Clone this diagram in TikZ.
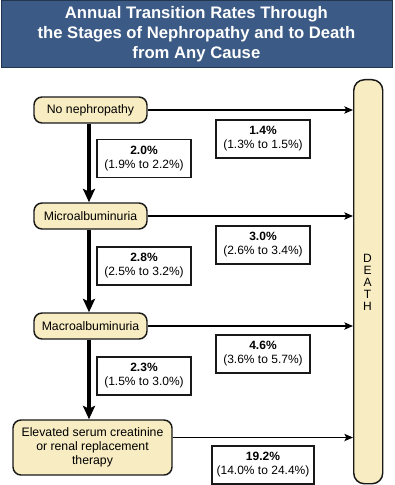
\documentclass[tikz,border=0pt]{standalone}
\usepackage{fontspec}
\setmainfont{Liberation Sans}
\usetikzlibrary{arrows.meta,positioning}
\definecolor{banner}{RGB}{59,90,133}
\definecolor{stagefill}{RGB}{248,236,194}
\begin{document}
\begin{tikzpicture}[x=0.75pt,y=-0.75pt,
  stage/.style={draw=black!90,line width=1.1pt,fill=stagefill,rounded corners=6pt,
    minimum width=84.75pt,minimum height=19.5pt,inner sep=0pt,align=center,
    font=\fontsize{9.2}{10.5}\selectfont},
  rate/.style={draw=black!90,line width=0.8pt,fill=white,minimum width=70.5pt,
    minimum height=28.5pt,inner sep=0pt,align=center,
    font=\fontsize{9}{10.5}\selectfont},
  downarrow/.style={line width=2.3pt,-{Stealth[length=10pt,width=9pt,inset=2pt]}},
  deatharrow/.style={line width=0.85pt,-{Stealth[length=6.5pt,width=5.5pt,inset=1.5pt]}}]
\useasboundingbox (0,0) rectangle (395,485);
% banner
\node[fill=banner,draw=banner!60!black,line width=0.6pt,minimum width=293.25pt,minimum height=50.25pt,
  inner sep=0pt,anchor=north west,text=white,align=center,
  font=\fontsize{12.5}{15}\selectfont\bfseries] (title) at (0.5,0.5)
  {Annual Transition Rates Through\\the Stages of Nephropathy and to Death\\from Any Cause};
% death box
\node[draw=black!90,line width=1.1pt,fill=stagefill,rounded corners=8pt,anchor=north west,
  minimum width=21.75pt,minimum height=303pt,inner sep=0pt] (death) at (353,79) {};
\node[align=center,font=\fontsize{9}{9}\selectfont] (dtext) at (367.5,282)
  {D\\E\\A\\T\\H};
% stages
\node[stage] (s1) at (90.5,110) {No nephropathy};
\node[stage] (s2) at (90.5,216) {Microalbuminuria};
\node[stage] (s3) at (90.5,326) {Macroalbuminuria};
\node[stage,minimum width=119.25pt,minimum height=41.25pt] (s4) at (92.5,447.5)
  {Elevated serum creatinine\\or renal replacement\\therapy};
% vertical arrows
\draw[downarrow] (s1.south -| 89,0) -- (s2.north -| 89,0);
\draw[downarrow] (s2.south -| 89,0) -- (s3.north -| 89,0);
\draw[downarrow] (s3.south -| 89,0) -- (s4.north -| 89,0);
% arrows to death
\draw[deatharrow] (s1.east) -- (s1.east -| death.west);
\draw[deatharrow] (s2.east) -- (s2.east -| death.west);
\draw[deatharrow] (s3.east) -- (s3.east -| death.west);
\draw[deatharrow] ([yshift=7.5pt]s4.east) -- ([yshift=7.5pt]s4.east -| death.west);
% rate boxes
\node[rate] (l1) at (144,158.5) {\textbf{2.0\%}\\(1.9\% to 2.2\%)};
\node[rate] (r1) at (263,139) {\textbf{1.4\%}\\(1.3\% to 1.5\%)};
\node[rate] (l2) at (144,266) {\textbf{2.8\%}\\(2.5\% to 3.2\%)};
\node[rate] (r2) at (263,245) {\textbf{3.0\%}\\(2.6\% to 3.4\%)};
\node[rate] (l3) at (144,376) {\textbf{2.3\%}\\(1.5\% to 3.0\%)};
\node[rate] (r3) at (263,354) {\textbf{4.6\%}\\(3.6\% to 5.7\%)};
\node[rate,minimum width=76.5pt] (r4) at (263,465) {\textbf{19.2\%}\\(14.0\% to 24.4\%)};
\end{tikzpicture}
\end{document}
